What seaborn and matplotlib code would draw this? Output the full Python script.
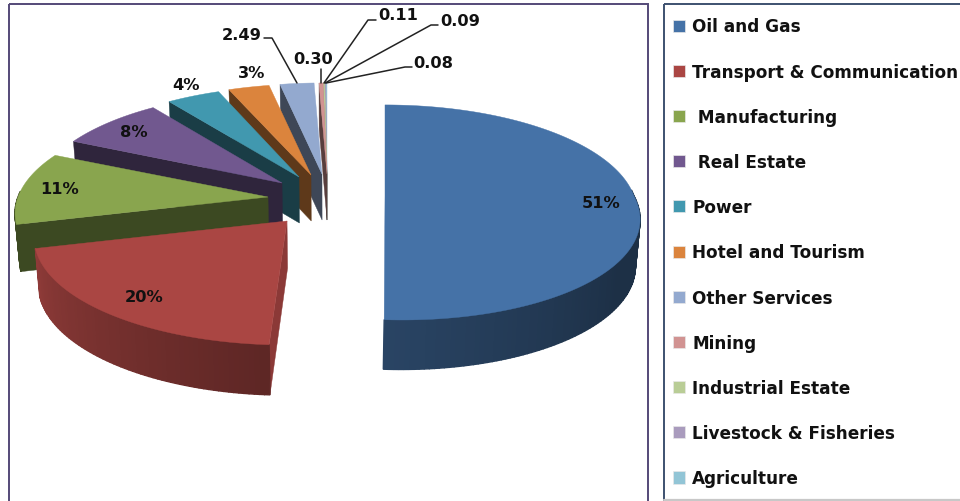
# -*- coding: utf-8 -*-
"""Exploded 3D style pie of investment by sector, with boxed legend."""

import numpy as np
import matplotlib
matplotlib.use('Agg')
import matplotlib.pyplot as plt
from matplotlib.patches import Polygon, Patch, Rectangle
import seaborn as sns

sectors = ['Oil and Gas', 'Transport & Communication', ' Manufacturing', ' Real Estate',
           'Power', 'Hotel and Tourism', 'Other Services', 'Mining',
           'Industrial Estate', 'Livestock & Fisheries', 'Agriculture']
shares = [51, 20, 11, 8, 4, 3, 2.49, 0.30, 0.11, 0.09, 0.08]
share_labels = ['51%', '20%', '11%', '8%', '4%', '3%', '2.49', '0.30', '0.11', '0.09', '0.08']
colors = ['#4572A7', '#AA4643', '#89A54E', '#71588F', '#4198AF', '#DB843D',
          '#93A9CF', '#D19392', '#B9CD96', '#A99BBD', '#92C5D6']

# tip of each exploded slice, in figure pixels
tips = [(385, 197), (287, 222), (268, 198), (282, 184), (299, 178), (311, 176),
        (322, 175), (327, 175), (327, 175), (327, 175), (327, 175)]
radius_x = [249, 250, 250, 245, 247, 252, 252, 252, 252, 252, 252]
front_shear = [17, 0, 0, 0, 0, 0, 0, 0, 0, 0, 0]
cut_shade = [0.55, 0.82, 0.44, 0.42, 0.40, 0.43, 0.42, 0.42, 0.42, 0.42, 0.42]

label_pos = [(601, 204), (144, 298), (60, 190), (134, 133), (186, 85), (252, 74),
             (242, 35), (313, 59), (398, 15), (460, 22), (433, 63)]
leaders = {6: [(264, 39), (272, 39), (297, 84)],
           7: [(321, 70), (321, 84)],
           8: [(376, 21), (368, 21), (324, 84)],
           9: [(438, 26), (431, 26), (325, 84)],
           10: [(412, 68), (405, 68), (326, 84)]}

RY, PERSP = 105, 0.153

sns.set_theme(style='white')
plt.rcParams['font.family'] = ['DejaVu Sans']
palette = sns.color_palette(colors)


def rim(i, theta):
    # point on the slice edge, with a bit of perspective towards the back
    u, v = np.sin(theta), np.cos(theta)
    s = 1 / (1 + PERSP * v)
    x = tips[i][0] + radius_x[i] * u * s - front_shear[i] * np.minimum(v, 0)
    return np.column_stack([x, tips[i][1] - RY * v * s])


def drop(pts):
    # same points on the bottom of the pie
    pts = np.atleast_2d(pts)
    x = pts[:, 0] + (327 - pts[:, 0]) * 0.015
    y = pts[:, 1] + 46 + np.clip(pts[:, 1] - 180, 0, None) * 0.025
    return np.column_stack([x, y])


def side_shade(i, theta):
    deg = np.degrees(theta)
    if i == 0:
        return np.interp(deg, [0, 125, 183.6], [0.42, 0.42, 0.60])
    if i == 1:
        return np.interp(deg, [183.6, 255.6], [0.55, 0.84])
    return cut_shade[i]


fig = plt.figure(figsize=(9.6, 5.02), dpi=100)
ax = fig.add_axes([0, 0, 1, 1])
ax.set_xlim(0, 960)
ax.set_ylim(502, 0)
ax.axis('off')

# panel frames
ax.add_patch(Rectangle((8.5, 4.5), 639, 520, fill=False, edgecolor='#544a78', lw=1.4))
ax.add_patch(Rectangle((664, 4.5), 320, 496, fill=False, edgecolor='#3d5170', lw=1.4))
ax.plot([664, 960], [500.5, 500.5], color='#c8c8c8', lw=1.6)

edges = np.cumsum([0] + shares) / sum(shares) * 2 * np.pi

# back slices first so the near ones paint over them
for i in range(len(shares) - 1, -1, -1):
    tip = np.array(tips[i], dtype=float)
    col = np.array(palette[i])
    thetas = np.linspace(edges[i], edges[i + 1], max(int(np.degrees(edges[i + 1] - edges[i])), 2))
    arc = rim(i, thetas)

    # flat cut face below the slice
    corner = arc[0]
    if i > 0:
        face = np.vstack([tip, corner, drop(corner), drop(tip)])
        ax.add_patch(Polygon(face, closed=True, fc=col * cut_shade[i], ec=col * cut_shade[i], lw=0.3))

    # curved outer wall, in thin strips for the shading
    low = drop(arc)
    for k in range(len(thetas) - 1):
        if np.cos(0.5 * (thetas[k] + thetas[k + 1])) > 0.05:
            continue
        shade = col * side_shade(i, thetas[k])
        quad = np.vstack([arc[k], arc[k + 1], low[k + 1], low[k]])
        ax.add_patch(Polygon(quad, closed=True, fc=shade, ec=shade, lw=1.0))

    # top of the slice
    ax.add_patch(Polygon(np.vstack([tip, arc]), closed=True, fc=col, ec=col, lw=0.3))

# data labels and their leader lines
for i, txt in enumerate(share_labels):
    ax.text(label_pos[i][0], label_pos[i][1], txt, ha='center', va='center',
            fontsize=11.7, fontweight='bold', color='#111111')
for pts in leaders.values():
    pts = np.array(pts)
    ax.plot(pts[:, 0], pts[:, 1], color='#222222', lw=1.1, solid_capstyle='round')

handles = [Patch(facecolor=palette[i], edgecolor='#e8e8e8', lw=0.5) for i in range(len(sectors))]
ax.legend(handles, sectors, loc='upper left', bbox_to_anchor=(673, 18.5), bbox_transform=ax.transData,
          frameon=False, borderpad=0, borderaxespad=0, prop={'size': 12.2, 'weight': 'bold'},
          handlelength=0.72, handleheight=0.72, handletextpad=0.41, labelspacing=1.605,
          labelcolor='#111111')

fig.savefig('out.png', dpi=100)
